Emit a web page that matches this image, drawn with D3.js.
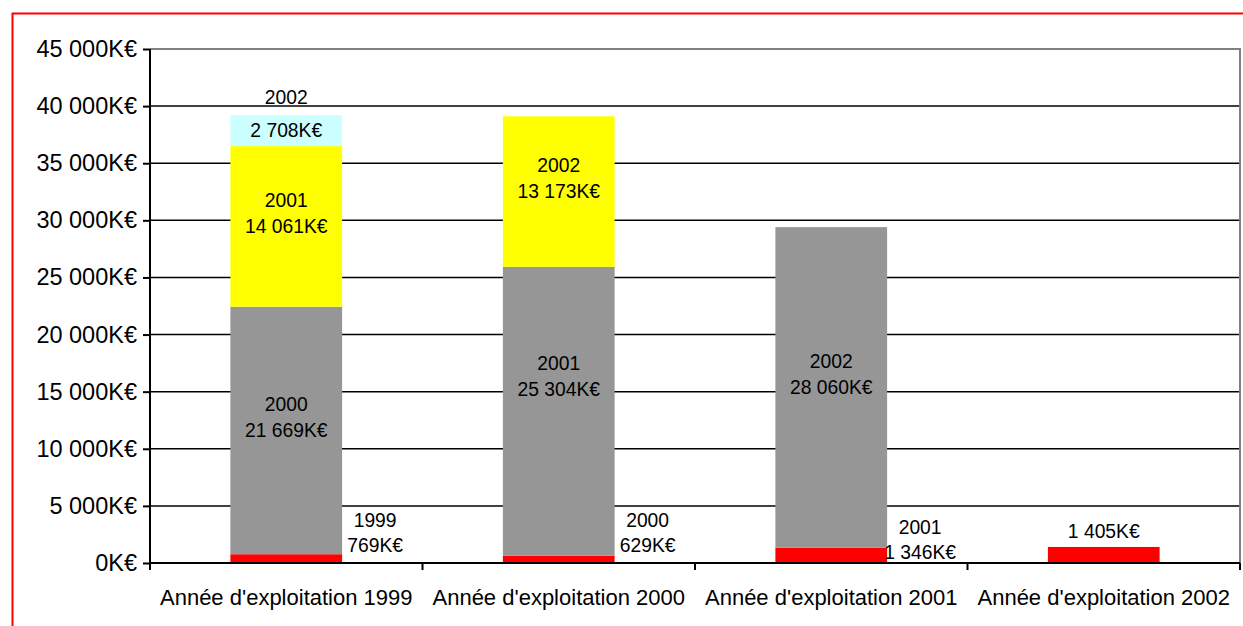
<!DOCTYPE html>
<html>
<head>
<meta charset="utf-8">
<title>Année d'exploitation</title>
<script src="https://d3js.org/d3.v7.min.js"></script>
<style>
  body { margin: 0; background: #fff; }
  text { font-family: "Liberation Sans", Arial, sans-serif; fill: #000; }
  .grid line { stroke: #000; stroke-width: 1.5px; }
</style>
</head>
<body>
<script>
// categories (exploitation year) and the year each segment is paid
var categories = ["Année d'exploitation 1999", "Année d'exploitation 2000",
                  "Année d'exploitation 2001", "Année d'exploitation 2002"];
var exploitYears = [1999, 2000, 2001, 2002];

// segments by offset from the exploitation year (K€)
var yearPlus0 = [769, 629, 1346, 1405];
var yearPlus1 = [21669, 25304, 28060, 0];
var yearPlus2 = [14061, 13173, 0, 0];
var yearPlus3 = [2708, 0, 0, 0];

var yTicks = [0, 5000, 10000, 15000, 20000, 25000, 30000, 35000, 40000, 45000];
var colors = ["#ff0000", "#969696", "#ffff00", "#ccffff"];

var W = 1243, H = 626;
var margin = {top: 49, right: 3, bottom: 63, left: 150};
var width = W - margin.left - margin.right,
    height = H - margin.top - margin.bottom;

var keys = ["p0", "p1", "p2", "p3"];
var table = categories.map(function(c, i) {
  return {cat: c, year: exploitYears[i], p0: yearPlus0[i], p1: yearPlus1[i], p2: yearPlus2[i], p3: yearPlus3[i]};
});
var series = d3.stack().keys(keys)(table);

var loc = d3.formatLocale({decimal: ",", thousands: " ", grouping: [3], currency: ["", ""]});
var fmt = loc.format(",");
function kEur(v) { return fmt(v) + "K€"; }

var x = d3.scaleBand().domain(categories).range([0, width]).paddingInner(0.59).paddingOuter(0.295);
var y = d3.scaleLinear().domain([0, 45000]).range([height, 0]);

var svg = d3.select("body").append("svg")
  .attr("width", W).attr("height", H);

// outer red frame (runs off the window on right and bottom)
svg.append("rect")
  .attr("x", 12.5).attr("y", 13.5)
  .attr("width", W + 20).attr("height", H + 20)
  .attr("fill", "none").attr("stroke", "#ff0000").attr("stroke-width", 2);

var g = svg.append("g").attr("transform", "translate(" + margin.left + "," + margin.top + ")");

// gridlines
g.append("g").attr("class", "grid")
  .selectAll("line").data(yTicks.slice(1, -1)).enter().append("line")
  .attr("x1", 0).attr("x2", width)
  .attr("y1", function(d) { return y(d); }).attr("y2", function(d) { return y(d); });

// plot border top/right
g.append("path")
  .attr("d", "M0," + y(45000) + "H" + width + "V" + height)
  .attr("fill", "none").attr("stroke", "#808080").attr("stroke-width", 2);

// bars
g.selectAll("g.layer").data(series).enter().append("g")
  .attr("class", "layer")
  .attr("fill", function(d, i) { return colors[i]; })
  .selectAll("rect").data(function(d) { return d.filter(function(s) { return s[1] - s[0] > 0; }); })
  .enter().append("rect")
  .attr("x", function(d) { return x(d.data.cat); })
  .attr("width", x.bandwidth())
  .attr("y", function(d) { return y(d[1]); })
  .attr("height", function(d) { return y(d[0]) - y(d[1]); });

// x axis (baseline + category ticks)
var xAxis = g.append("g").attr("transform", "translate(0," + height + ")");
xAxis.append("line").attr("x1", 0).attr("x2", width).attr("stroke", "#000").attr("stroke-width", 2);
var step = x.step();
xAxis.selectAll("line.tick").data(d3.range(categories.length + 1)).enter().append("line")
  .attr("x1", function(i) { return i * step; }).attr("x2", function(i) { return i * step; })
  .attr("y1", 0).attr("y2", 7).attr("stroke", "#000").attr("stroke-width", 2);
xAxis.selectAll("text").data(categories).enter().append("text")
  .attr("x", function(d) { return x(d) + x.bandwidth() / 2; })
  .attr("y", 42)
  .attr("text-anchor", "middle")
  .style("font-size", "22px")
  .text(function(d) { return d; });

// y axis
var yAxis = d3.axisLeft(y).tickValues(yTicks).tickSize(7).tickPadding(6).tickFormat(kEur);
var ya = g.append("g").call(yAxis);
ya.select(".domain").remove();
ya.selectAll(".tick line").attr("stroke", "#000").attr("stroke-width", 2);
ya.selectAll(".tick text").style("font-size", "23.5px").attr("font-family", null);
ya.append("line").attr("x1", 0).attr("x2", 0).attr("y1", y(45000)).attr("y2", height + 5)
  .attr("stroke", "#000").attr("stroke-width", 2);

// data labels
var labels = g.append("g").style("font-size", "19.3px");
var nudge = {"1-1": -22, "2-0": 7};
series.forEach(function(s, k) {
  s.forEach(function(d, i) {
    var v = d[1] - d[0];
    if (!(v > 0)) return;
    var yr = exploitYears[i] + k;
    var cx = x(d.data.cat) + x.bandwidth() / 2;
    var mid = (y(d[0]) + y(d[1])) / 2;
    var dy = nudge[i + "-" + k] || 0;
    var yv, yy, lx = cx;
    if (k === 0 && i === categories.length - 1) {
      // lone bar: value only, above the bar
      labels.append("text").attr("x", cx).attr("y", y(d[1]) - 16).attr("dy", "0.35em")
        .attr("text-anchor", "middle").text(kEur(v));
      return;
    } else if (k === 0) {
      lx = x(d.data.cat) + x.bandwidth() + 33;
      yv = y(0) - 18; yy = yv - 25;
    } else if (k === 3) {
      yv = mid; yy = y(d[1]) - 18;
    } else {
      yv = mid; yy = mid - 26;
    }
    labels.append("text").attr("x", lx).attr("y", yy + dy).attr("dy", "0.35em")
      .attr("text-anchor", "middle").text(yr);
    labels.append("text").attr("x", lx).attr("y", yv + dy).attr("dy", "0.35em")
      .attr("text-anchor", "middle").text(kEur(v));
  });
});
</script>
</body>
</html>
